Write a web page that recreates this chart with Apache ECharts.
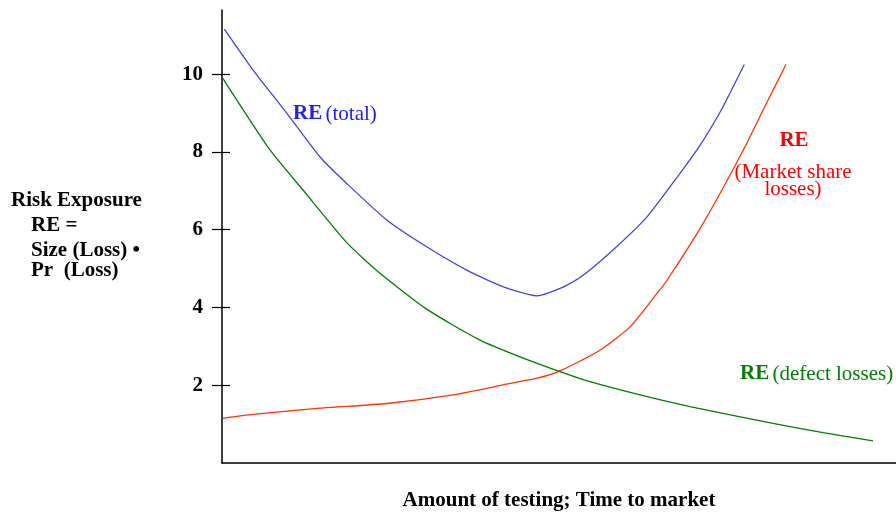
<!DOCTYPE html>
<html>
<head>
<meta charset="utf-8">
<script src="https://cdn.jsdelivr.net/npm/echarts@6/dist/echarts.min.js"></script>
<style>html,body{margin:0;padding:0;background:#fff}#c{width:896px;height:512px}</style>
</head>
<body>
<div id="c"></div>
<script>
// Data (x: 0..100 along the horizontal axis, y: risk exposure)
const totalX = [0.34, 4.64, 9.60, 14.54, 18.50, 24.44, 30.37, 36.31, 41.74, 46.69, 50.15, 53.12, 58.01, 63.06, 67.95, 70.92, 73.89, 75.82, 77.49];
const totalY = [11.16, 10.10, 9.00, 7.87, 7.19, 6.25, 5.56, 4.96, 4.53, 4.30, 4.49, 4.77, 5.48, 6.33, 7.45, 8.17, 9.02, 9.67, 10.25];
const marketX = [0.1, 4.6, 14.54, 24.48, 34.27, 41.69, 46.74, 50.15, 56.08, 60.53, 64.54, 66.02, 70.47, 73.89, 77.89, 80.27, 83.68];
const marketY = [1.15, 1.25, 1.41, 1.53, 1.75, 2.01, 2.18, 2.37, 2.90, 3.50, 4.36, 4.70, 5.90, 6.93, 8.23, 9.07, 10.25];
const defectX = [0.1, 7.12, 12.02, 18.55, 23.44, 30.42, 38.28, 44.21, 50.15, 54.60, 62.02, 69.44, 81.75, 89.17, 96.59];
const defectY = [9.90, 8.05, 7.02, 5.66, 4.88, 3.95, 3.16, 2.73, 2.35, 2.09, 1.75, 1.45, 1.02, 0.78, 0.57];
const yTicks = [2, 4, 6, 8, 10];

const zip = (xs, ys) => xs.map((x, i) => [x, ys[i]]);
const F = 'Liberation Serif, Times New Roman, serif';
const chart = echarts.init(document.getElementById('c'), null, {renderer: 'canvas'});
const yBase = {type: 'value', min: 0, max: 11.65, interval: 2, splitLine: {show: false}};
const lineBase = {type: 'line', smooth: 0.2, symbol: 'none'};
chart.setOption({
  animation: false,
  backgroundColor: '#fff',
  grid: {left: 222, right: 0, top: 10, bottom: 49, containLabel: false},
  xAxis: {type: 'value', min: 0, max: 100, axisLine: {lineStyle: {color: '#000', width: 1.5}},
          axisTick: {show: false}, axisLabel: {show: false}, splitLine: {show: false}},
  yAxis: [
    Object.assign({}, yBase, {
      axisLine: {show: true, lineStyle: {color: '#000', width: 1.5}},
      axisTick: {show: true, length: 10, customValues: yTicks, lineStyle: {color: '#000', width: 1.2}},
      axisLabel: {show: true, customValues: yTicks, margin: 19, color: '#000', fontFamily: F, fontWeight: 'bold', fontSize: 21}
    }),
    Object.assign({}, yBase, {
      position: 'left',
      axisLine: {show: false},
      axisTick: {show: true, inside: true, length: 8, customValues: yTicks, lineStyle: {color: '#000', width: 1.2}},
      axisLabel: {show: false}
    })
  ],
  series: [
    Object.assign({}, lineBase, {name: 'total', data: zip(totalX, totalY), lineStyle: {color: '#4444dd', width: 1.3}}),
    Object.assign({}, lineBase, {name: 'market', data: zip(marketX, marketY), lineStyle: {color: '#ff3300', width: 1.3}}),
    Object.assign({}, lineBase, {name: 'defect', data: zip(defectX, defectY), lineStyle: {color: '#008000', width: 1.3}})
  ],
  graphic: [
    {type: 'text', x: 11, y: 201, style: {text: 'Risk Exposure', font: 'bold 21px ' + F, fill: '#000', verticalAlign: 'middle'}},
    {type: 'text', x: 31, y: 226, style: {text: 'RE =', font: 'bold 21px ' + F, fill: '#000', verticalAlign: 'middle'}},
    {type: 'text', x: 31, y: 251, style: {text: 'Size (Loss) \u2022', font: 'bold 21px ' + F, fill: '#000', verticalAlign: 'middle'}},
    {type: 'text', x: 31, y: 271, style: {text: 'Pr  (Loss)', font: 'bold 21px ' + F, fill: '#000', verticalAlign: 'middle'}},
    {type: 'text', x: 559, y: 501, style: {text: 'Amount of testing; Time to market', font: 'bold 21px ' + F, fill: '#000', align: 'center', verticalAlign: 'middle'}},
    {type: 'text', x: 293, y: 114, style: {
      text: '{b|RE} {n|(total)}', verticalAlign: 'middle',
      rich: {b: {font: 'bold 21px ' + F, fill: '#2222ee'}, n: {font: '21px ' + F, fill: '#2222ee'}}}},
    {type: 'text', x: 794, y: 141, style: {text: 'RE', font: 'bold 21px ' + F, fill: '#ff0000', align: 'center', verticalAlign: 'middle'}},
    {type: 'text', x: 793, y: 172, style: {text: '(Market share', font: '21px ' + F, fill: '#ff0000', align: 'center', verticalAlign: 'middle'}},
    {type: 'text', x: 793, y: 189, style: {text: 'losses)', font: '21px ' + F, fill: '#ff0000', align: 'center', verticalAlign: 'middle'}},
    {type: 'text', x: 740, y: 374, style: {
      text: '{b|RE} {n|(defect losses)}', verticalAlign: 'middle',
      rich: {b: {font: 'bold 21px ' + F, fill: '#008000'}, n: {font: '21px ' + F, fill: '#008000'}}}}
  ]
});
</script>
</body>
</html>
